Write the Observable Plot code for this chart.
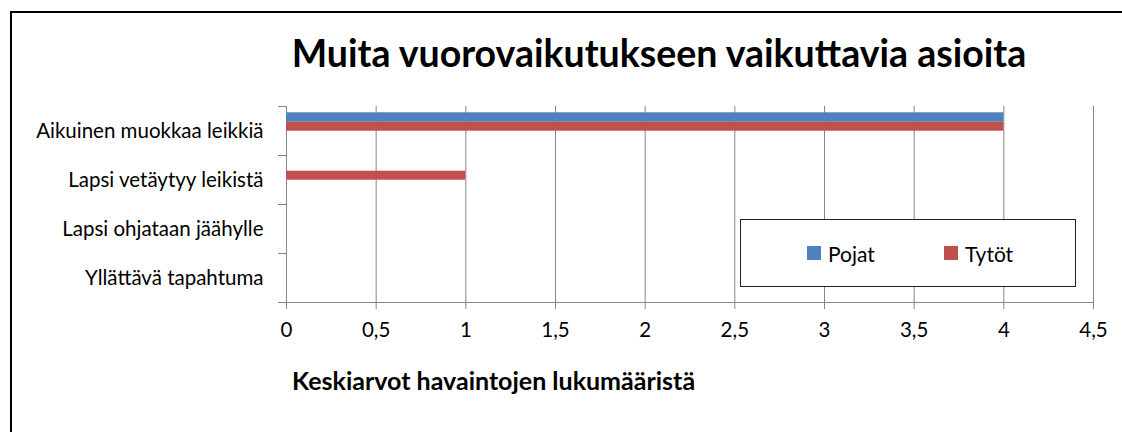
<!DOCTYPE html>
<html>
<head>
<meta charset="utf-8">
<script src="https://cdn.jsdelivr.net/npm/d3@7"></script>
<script src="https://cdn.jsdelivr.net/npm/@observablehq/plot@0.6"></script>
<style>
  html, body { margin: 0; padding: 0; background: #fff; }
  #wrap { position: relative; width: 1122px; height: 432px; overflow: hidden; font-family: Lato, "Open Sans", sans-serif; color: #000; }
  #border { position: absolute; left: 10px; top: 11px; width: 1200px; height: 500px; border: 2px solid #000; box-sizing: border-box; }
  #title { position: absolute; left: 159px; width: 1000px; top: 34px; text-align: center; font-weight: bold; font-size: 37.5px; line-height: 37.5px; white-space: nowrap; }
  #chart { position: absolute; left: 0; top: 0; }
  #xlabel { position: absolute; left: 292px; top: 368px; font-weight: bold; font-size: 25px; line-height: 25px; white-space: nowrap; }
  #legend { position: absolute; left: 740px; top: 219px; width: 336px; height: 68px; border: 1px solid #222; box-sizing: border-box; background: #fff; }
  .item { position: absolute; top: 0; height: 66px; display: flex; align-items: center; font-size: 21px; }
  .sw { width: 14px; height: 14px; margin-right: 7px; display: inline-block; }
</style>
</head>
<body>
<div id="wrap">
  <div id="border"></div>
  <div id="chart"></div>
  <div id="title"></div>
  <div id="xlabel"></div>
  <div id="legend"></div>
</div>
<script>
const title = "Muita vuorovaikutukseen vaikuttavia asioita";
const xLabel = "Keskiarvot havaintojen lukumääristä";
const categories = ["Aikuinen muokkaa leikkiä", "Lapsi vetäytyy leikistä", "Lapsi ohjataan jäähylle", "Yllättävä tapahtuma"];
const seriesNames = ["Pojat", "Tytöt"];
const pojat = [4, 0, 0, 0];
const tytot = [4, 1, 0, 0];
const xTicks = [0, 0.5, 1, 1.5, 2, 2.5, 3, 3.5, 4, 4.5];
const colors = ["#4F81BD", "#C0504D"];

const rows = categories.map((c, i) => ({category: c, pojat: pojat[i], tytot: tytot[i]}));

document.getElementById("title").textContent = title;
document.getElementById("xlabel").textContent = xLabel;

const legend = document.getElementById("legend");
const legendLeft = [66, 203];
seriesNames.forEach((s, i) => {
  const it = document.createElement("div");
  it.className = "item";
  it.style.left = legendLeft[i] + "px";
  const sw = document.createElement("span");
  sw.className = "sw";
  sw.style.background = colors[i];
  it.appendChild(sw);
  it.appendChild(document.createTextNode(s));
  legend.appendChild(it);
});

const fmt = d => String(d).replace(".", ",");
const half = 24.5;

const chart = Plot.plot({
  width: 1122,
  height: 432,
  marginLeft: 286,
  marginRight: 29,
  marginTop: 106,
  marginBottom: 130,
  style: {fontFamily: "Lato, 'Open Sans', sans-serif", fontSize: "20.5px", color: "#000", background: "transparent"},
  x: {domain: [0, 4.5], ticks: xTicks, tickFormat: fmt, label: null},
  y: {domain: categories, padding: 0, label: null},
  marks: [
    Plot.ruleX(xTicks, {stroke: "#868686", strokeWidth: 1}),
    Plot.frame({anchor: "bottom", stroke: "#868686"}),
    Plot.barX(rows, {x: "pojat", y: "category", fill: colors[0], insetTop: 6.3, insetBottom: 33.3}),
    Plot.barX(rows, {x: "tytot", y: "category", fill: colors[1], insetTop: 15.7, insetBottom: 24.3}),
    Plot.axisX({ticks: xTicks, tickFormat: fmt, tickSize: 7, tickPadding: 13, stroke: "#868686", fill: "#000", label: null}),
    Plot.axisY({tickSize: 0, tickPadding: 23, fill: "#000", label: null}),
    Plot.axisY({tickSize: 8, tickFormat: () => "", stroke: "#868686", dy: -half, label: null}),
    Plot.axisY({ticks: [categories[categories.length - 1]], tickSize: 8, tickFormat: () => "", stroke: "#868686", dy: half, label: null})
  ]
});
document.getElementById("chart").appendChild(chart);
</script>
</body>
</html>
